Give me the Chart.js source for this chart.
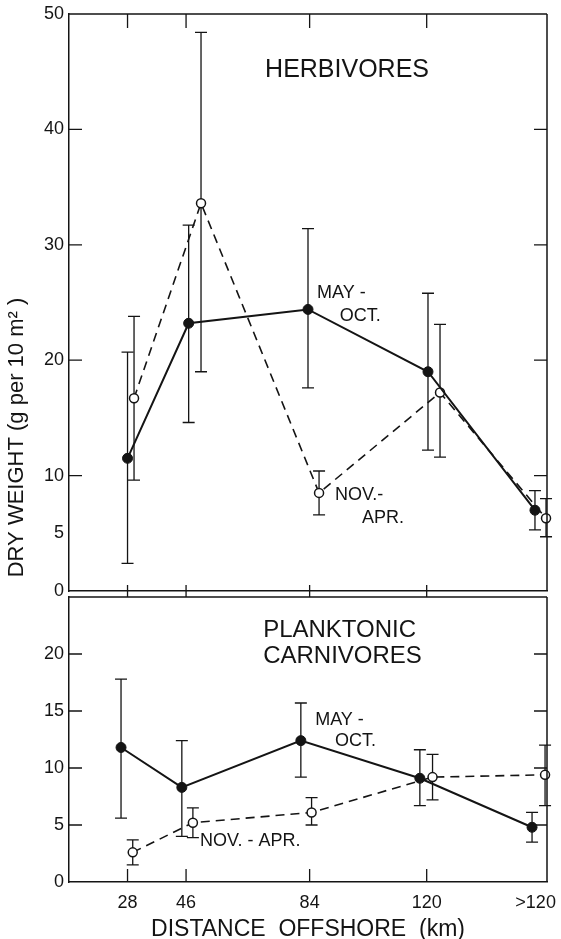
<!DOCTYPE html>
<html>
<head>
<meta charset="utf-8">
<script src="https://cdn.jsdelivr.net/npm/chart.js@4.4.1/dist/chart.umd.min.js"></script>
<style>
  html, body { margin: 0; padding: 0; background: #fff; }
  #wrap { position: relative; width: 561px; height: 939px; }
  #topPanel { position: absolute; left: 0; top: 0; }
  #bottomPanel { position: absolute; left: 0; top: 591px; }
</style>
</head>
<body>
<div id="wrap">
  <canvas id="topPanel" width="561" height="600"></canvas>
  <canvas id="bottomPanel" width="561" height="348"></canvas>
</div>
<script>
// distance offshore (km): tick positions and labels
var distTicks = [28, 46, 84, 120, 153.5];
var distLabels = ["28", "46", "84", "120", ">120"];
var distTickMarks = [28, 46, 84, 120];

// herbivores, dry weight g per 10 m2
var herbMayDist = [28, 46.8, 83.5, 120.4, 153.3];
var herbMayMean = [11.5, 23.2, 24.4, 19.0, 7.0];
var herbMayHigh = [20.7, 31.7, 31.4, 25.8, 8.7];
var herbMayLow = [2.4, 14.6, 17.6, 12.2, 5.3];

var herbNovDist = [30.0, 50.6, 86.9, 124.1, 156.7];
var herbNovMean = [16.7, 33.6, 8.5, 17.2, 6.3];
var herbNovHigh = [23.8, 48.4, 10.4, 23.1, 8.0];
var herbNovLow = [9.6, 19.0, 6.6, 11.6, 4.7];

// planktonic carnivores
var plankMayDist = [26.0, 44.7, 81.3, 117.9, 152.4];
var plankMayMean = [11.8, 8.3, 12.4, 9.1, 4.8];
var plankMayHigh = [17.8, 12.4, 15.7, 11.6, 6.1];
var plankMayLow = [5.6, 4.0, 9.2, 6.7, 3.5];

var plankNovDist = [29.6, 48.1, 84.6, 121.8, 156.4];
var plankNovMean = [2.6, 5.2, 6.1, 9.2, 9.4];
var plankNovHigh = [3.7, 6.5, 7.4, 11.2, 12.0];
var plankNovLow = [1.5, 3.9, 5.0, 7.2, 6.7];

// y axis ticks
var herbYTicks = [0, 5, 10, 20, 30, 40, 50];
var herbYTickMarks = [10, 20, 30, 40];
var plankYTicks = [0, 5, 10, 15, 20];
var plankYTickMarks = [5, 10, 15, 20];

var ink = '#141414';
var fontFam = "'Liberation Sans', Arial, sans-serif";

function toPoints(xs, ys) {
  return xs.map(function (x, i) { return { x: x, y: ys[i] }; });
}

function mayDataset(xs, mean, lo, hi) {
  return {
    label: 'May - Oct.',
    data: toPoints(xs, mean),
    errLow: lo, errHigh: hi,
    borderColor: ink, borderWidth: 2,
    pointRadius: 5, pointBackgroundColor: ink, pointBorderColor: ink,
    pointBorderWidth: 1, tension: 0, clip: false
  };
}

function novDataset(xs, mean, lo, hi) {
  return {
    label: 'Nov. - Apr.',
    data: toPoints(xs, mean),
    errLow: lo, errHigh: hi,
    borderColor: ink, borderWidth: 1.6, borderDash: [9, 6],
    pointRadius: 4.5, pointBackgroundColor: '#fff', pointBorderColor: ink,
    pointBorderWidth: 1.5, tension: 0, clip: false
  };
}

// error bars underneath, frame, inward tick marks and text labels on top
var panelDecor = {
  id: 'panelDecor',
  beforeDatasetsDraw: function (chart) {
    var ctx = chart.ctx, xs = chart.scales.x, ys = chart.scales.y;
    ctx.save();
    ctx.strokeStyle = ink;
    ctx.lineWidth = 1.3;
    chart.data.datasets.forEach(function (ds) {
      ds.data.forEach(function (p, i) {
        var px = xs.getPixelForValue(p.x);
        var top = ys.getPixelForValue(ds.errHigh[i]);
        var bot = ys.getPixelForValue(ds.errLow[i]);
        ctx.beginPath();
        ctx.moveTo(px, top); ctx.lineTo(px, bot);
        ctx.moveTo(px - 6, top); ctx.lineTo(px + 6, top);
        ctx.moveTo(px - 6, bot); ctx.lineTo(px + 6, bot);
        ctx.stroke();
      });
    });
    ctx.restore();
  },
  afterDraw: function (chart, args, opts) {
    var ctx = chart.ctx, xs = chart.scales.x, ys = chart.scales.y;
    var area = chart.chartArea;
    ctx.save();
    ctx.strokeStyle = ink;
    ctx.lineWidth = 1.5;
    ctx.beginPath();
    ctx.moveTo(area.left, area.top); ctx.lineTo(area.right, area.top);
    ctx.moveTo(area.right, area.top); ctx.lineTo(area.right, area.bottom);
    ctx.stroke();

    ctx.lineWidth = 1.3;
    ctx.beginPath();
    opts.yMarks.forEach(function (v) {
      var py = ys.getPixelForValue(v);
      ctx.moveTo(area.left, py); ctx.lineTo(area.left + 13, py);
      ctx.moveTo(area.right, py); ctx.lineTo(area.right - 13, py);
    });
    distTickMarks.forEach(function (v) {
      var px = xs.getPixelForValue(v);
      if (opts.topEdge) {
        ctx.moveTo(px, area.top); ctx.lineTo(px, area.top + 14);
        ctx.moveTo(px, area.bottom - 6); ctx.lineTo(px, area.bottom + 6);
      } else {
        ctx.moveTo(px, area.bottom); ctx.lineTo(px, area.bottom - 13);
      }
    });
    ctx.stroke();

    ctx.fillStyle = ink;
    ctx.textBaseline = 'middle';
    ctx.textAlign = 'left';
    opts.labels.forEach(function (lb) {
      ctx.font = lb.size + 'px ' + fontFam;
      ctx.fillText(lb.text, xs.getPixelForValue(lb.x), ys.getPixelForValue(lb.y));
    });

    if (opts.yTitle) {
      ctx.save();
      ctx.translate(17, ys.getPixelForValue(13.3));
      ctx.rotate(-Math.PI / 2);
      ctx.textAlign = 'center';
      ctx.font = '22px ' + fontFam;
      ctx.fillText(opts.yTitle, 0, 0);
      ctx.restore();
    }
    ctx.restore();
  }
};

function panelOptions(yMax, yTicks, decor, showX) {
  return {
    responsive: false,
    animation: false,
    layout: { padding: { top: showX ? 0 : 14, right: 14, left: 0, bottom: 0 } },
    plugins: {
      legend: { display: false },
      tooltip: { enabled: false },
      panelDecor: decor
    },
    scales: {
      x: {
        type: 'linear', min: 10, max: 157,
        afterBuildTicks: function (scale) {
          scale.ticks = distTicks.map(function (v) { return { value: v }; });
        },
        afterFit: function (scale) {
          scale.height = showX ? 57 : 9;
          scale.paddingLeft = 0;
          scale.paddingRight = 0;
        },
        grid: { display: false, drawTicks: false },
        border: { display: true, color: ink, width: 1.5 },
        ticks: {
          display: showX, autoSkip: false, maxRotation: 0, padding: 10, color: ink,
          font: { family: fontFam, size: 18 },
          callback: function (v) { return distLabels[distTicks.indexOf(v)]; }
        },
        title: {
          display: showX, text: 'DISTANCE  OFFSHORE  (km)', color: ink,
          font: { family: fontFam, size: 23, lineHeight: 0.8 },
          padding: 0
        }
      },
      y: {
        min: 0, max: yMax,
        afterBuildTicks: function (scale) {
          scale.ticks = yTicks.map(function (v) { return { value: v }; });
        },
        afterFit: function (scale) {
          scale.width = 69;
          scale.paddingTop = 0;
          scale.paddingBottom = 0;
        },
        grid: { display: false, drawTicks: false },
        border: { display: true, color: ink, width: 1.5 },
        ticks: { padding: 5, color: ink, font: { family: fontFam, size: 18 } }
      }
    }
  };
}

new Chart(document.getElementById('topPanel'), {
  type: 'line',
  data: {
    datasets: [
      mayDataset(herbMayDist, herbMayMean, herbMayLow, herbMayHigh),
      novDataset(herbNovDist, herbNovMean, herbNovLow, herbNovHigh)
    ]
  },
  options: panelOptions(50, herbYTicks, {
    topEdge: true,
    yMarks: herbYTickMarks,
    yTitle: 'DRY WEIGHT (g per 10 m\u00B2 )',
    labels: [
      { text: 'HERBIVORES', x: 70.3, y: 45.1, size: 25 },
      { text: 'MAY -', x: 86.3, y: 25.8, size: 18 },
      { text: 'OCT.', x: 93.3, y: 23.8, size: 18 },
      { text: 'NOV.-', x: 91.8, y: 8.3, size: 18 },
      { text: 'APR.', x: 100.1, y: 6.3, size: 18 }
    ]
  }, false),
  plugins: [panelDecor]
});

new Chart(document.getElementById('bottomPanel'), {
  type: 'line',
  data: {
    datasets: [
      mayDataset(plankMayDist, plankMayMean, plankMayLow, plankMayHigh),
      novDataset(plankNovDist, plankNovMean, plankNovLow, plankNovHigh)
    ]
  },
  options: panelOptions(25, plankYTicks, {
    topEdge: false,
    yMarks: plankYTickMarks,
    labels: [
      { text: 'PLANKTONIC', x: 69.7, y: 22.1, size: 24 },
      { text: 'CARNIVORES', x: 69.7, y: 19.8, size: 24 },
      { text: 'MAY -', x: 85.7, y: 14.2, size: 18 },
      { text: 'OCT.', x: 91.8, y: 12.4, size: 18 },
      { text: 'NOV. - APR.', x: 50.3, y: 3.6, size: 18 }
    ]
  }, true),
  plugins: [panelDecor]
});
</script>
</body>
</html>
